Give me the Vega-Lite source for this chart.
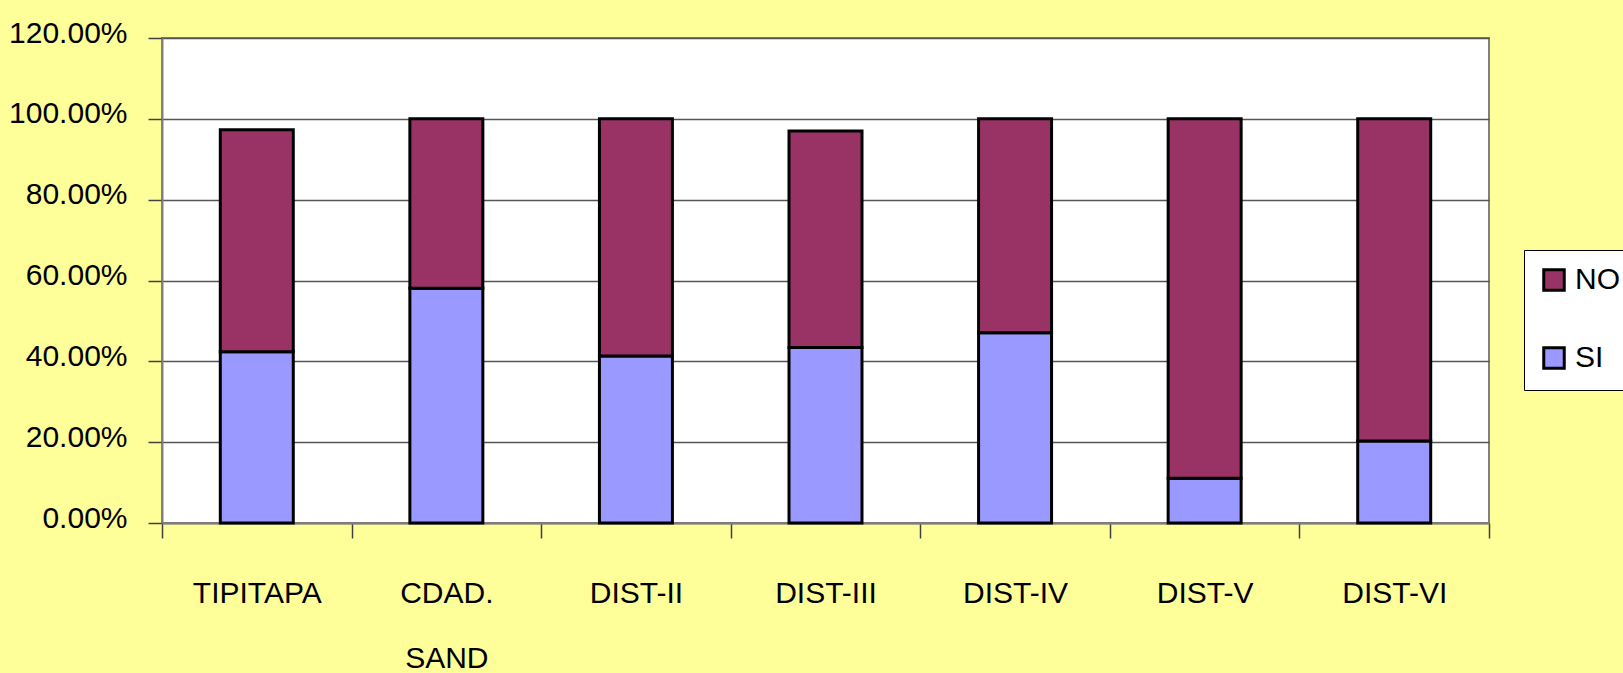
{
  "$schema": "https://vega.github.io/schema/vega-lite/v6.json",
  "width": 1327,
  "height": 485,
  "autosize": {"type": "none"},
  "padding": {"left": 162, "top": 38, "right": 134, "bottom": 150},
  "background": "#FFFF99",
  "data": {
    "values": [
      {"district": "TIPITAPA", "answer": "SI", "share": 0.424},
      {"district": "TIPITAPA", "answer": "NO", "share": 0.549},
      {"district": "CDAD. SAND", "answer": "SI", "share": 0.581},
      {"district": "CDAD. SAND", "answer": "NO", "share": 0.419},
      {"district": "DIST-II", "answer": "SI", "share": 0.413},
      {"district": "DIST-II", "answer": "NO", "share": 0.587},
      {"district": "DIST-III", "answer": "SI", "share": 0.434},
      {"district": "DIST-III", "answer": "NO", "share": 0.536},
      {"district": "DIST-IV", "answer": "SI", "share": 0.471},
      {"district": "DIST-IV", "answer": "NO", "share": 0.529},
      {"district": "DIST-V", "answer": "SI", "share": 0.111},
      {"district": "DIST-V", "answer": "NO", "share": 0.889},
      {"district": "DIST-VI", "answer": "SI", "share": 0.203},
      {"district": "DIST-VI", "answer": "NO", "share": 0.797}
    ]
  },
  "mark": {"type": "bar", "stroke": "black", "strokeWidth": 3, "width": {"band": 0.385}},
  "encoding": {
    "x": {
      "field": "district",
      "type": "nominal",
      "sort": null,
      "scale": {"paddingInner": 0, "paddingOuter": 0},
      "axis": {
        "title": null,
        "labelAngle": 0,
        "tickBand": "extent",
        "tickSize": 15,
        "tickColor": "#404040",
        "tickWidth": 1.5,
        "domainColor": "#808080",
        "domainWidth": 2,
        "labelPadding": 40,
        "labelBaseline": "top",
        "labelLineHeight": 65,
        "labelExpr": "datum.value == 'CDAD. SAND' ? ['CDAD.', 'SAND'] : datum.value"
      }
    },
    "y": {
      "field": "share",
      "type": "quantitative",
      "stack": "zero",
      "scale": {"domain": [0, 1.2], "nice": false},
      "axis": {
        "title": null,
        "format": ".2%",
        "values": [0, 0.2, 0.4, 0.6, 0.8, 1.0, 1.2],
        "tickSize": 14,
        "tickColor": "#404040",
        "tickWidth": 1.5,
        "domainColor": "#808080",
        "domainWidth": 2,
        "labelPadding": 21,
        "labelOffset": -5,
        "grid": true,
        "gridColor": "#555555",
        "gridWidth": 1.5
      }
    },
    "color": {
      "field": "answer",
      "type": "nominal",
      "scale": {"domain": ["NO", "SI"], "range": ["#993366", "#9999FF"]},
      "legend": {
        "title": null,
        "orient": "none",
        "legendX": 1362,
        "legendY": 212,
        "fillColor": "white",
        "strokeColor": "black",
        "padding": 15,
        "symbolType": "square",
        "symbolSize": 420,
        "symbolStrokeColor": "black",
        "symbolStrokeWidth": 3,
        "labelOffset": 6,
        "rowPadding": 44,
        "labelFontSize": 30,
        "labelFont": "Liberation Sans",
        "labelColor": "black"
      }
    },
    "order": {"field": "answer", "sort": "descending"}
  },
  "config": {
    "view": {"fill": "white", "stroke": "#808080", "strokeWidth": 2},
    "axis": {
      "labelFont": "Liberation Sans",
      "labelFontSize": 30,
      "labelColor": "black",
      "labelFontWeight": "normal"
    }
  }
}
